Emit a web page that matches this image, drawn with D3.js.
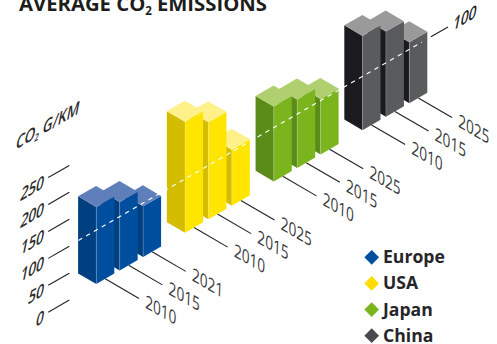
<!DOCTYPE html>
<html>
<head>
<meta charset="utf-8">
<script src="https://cdn.jsdelivr.net/npm/d3@7/dist/d3.min.js"></script>
<style>
  html, body { margin: 0; padding: 0; background: #fff; }
  svg { display: block; }
  text { font-family: "Open Sans", "Noto Sans", sans-serif; }
</style>
</head>
<body>
<svg id="chart" width="497" height="344"></svg>
<script>
// CO2 emissions per region and model year, in g/km
const regions = ["Europe", "USA", "Japan", "China"];
const yearLabels = [
  ["2010", "2015", "2021"],
  ["2010", "2015", "2025"],
  ["2010", "2015", "2025"],
  ["2010", "2015", "2025"]
];
const emissions = [
  [143, 127, 94],
  [206, 180, 104],
  [139, 127, 103],
  [175, 158, 113]
];
const valueTicks = [0, 50, 100, 150, 200, 250];
const targetValue = 100;

const frontColors = ["#004f9f", "#ffe500", "#7ab51d", "#5a5b5d"];
const leftColors  = ["#003f80", "#d4bc00", "#5b8c1a", "#1b1a1f"];
const topColors   = ["#5f7fbb", "#fff08a", "#b0d070", "#9a9a9b"];
const legendColors = ["#004f9f", "#ffdd00", "#7ab51d", "#4a4a4c"];

// Isometric projection: position along the row of bars, depth towards the viewer, height
const rowX = d3.scaleLinear().domain([0, 1]).range([96.3, 114.3]);
const rowY = d3.scaleLinear().domain([0, 1]).range([284, 273.6]);
const depthX = d3.scaleLinear().domain([0, 1]).range([0, 18.2]);
const depthY = d3.scaleLinear().domain([0, 1]).range([0, 10.6]);
const heightY = d3.scaleLinear().domain([0, 250]).range([0, 134.7]);

const barStep = 1.3;
const groupStep = 4.93;
const rowPos = (g, b) => g * groupStep + b * barStep;

// Screen point for row position p, depth d (negative goes back) and value h
const pt = (p, d, h) => [rowX(p) + depthX(d), rowY(p) + depthY(d) - heightY(h)];
const poly = pts => pts.map(q => q.join(",")).join(" ");

// Lettering laid onto the isometric planes
const risingText = (x, y) => `matrix(0.8,-0.46,-0.22,1.12,${x},${y})`;
const fallingText = (x, y) => `matrix(0.8,0.46,-0.05,1.08,${x},${y})`;

const svg = d3.select("#chart");

// Flatten to bars, painted from the farthest to the nearest
const bars = [];
emissions.forEach((vals, g) => vals.forEach((v, b) => bars.push({ g, b, v, year: yearLabels[g][b] })));
bars.reverse();

// Year leaders and labels lie on the ground, so they go underneath the bars
const leaders = svg.append("g");
bars.forEach(d => {
  const p = rowPos(d.g, d.b) + 0.5;
  const a = pt(p, 0, 0), e = pt(p, 1.85, 0);
  leaders.append("line")
    .attr("x1", a[0]).attr("y1", a[1]).attr("x2", e[0]).attr("y2", e[1])
    .attr("stroke", "#222").attr("stroke-width", 1.1);
  leaders.append("text")
    .attr("transform", fallingText(e[0] + 6, e[1] + 9))
    .attr("font-size", 17).attr("fill", "#3a3a3c")
    .text(d.year);
});

// Bars
const barLayer = svg.append("g");
bars.forEach(d => {
  const p = rowPos(d.g, d.b);
  const g = barLayer.append("g");
  g.append("polygon")
    .attr("points", poly([pt(p, 0, 0), pt(p, -1, 0), pt(p, -1, d.v), pt(p, 0, d.v)]))
    .attr("fill", leftColors[d.g]);
  g.append("polygon")
    .attr("points", poly([pt(p, 0, 0), pt(p + 1, 0, 0), pt(p + 1, 0, d.v), pt(p, 0, d.v)]))
    .attr("fill", frontColors[d.g]);
  g.append("polygon")
    .attr("points", poly([pt(p, 0, d.v), pt(p + 1, 0, d.v), pt(p + 1, -1, d.v), pt(p, -1, d.v)]))
    .attr("fill", topColors[d.g]);
  const c0 = pt(p, 0, 0), c1 = pt(p, 0, d.v);
  g.append("line")
    .attr("x1", c0[0]).attr("y1", c0[1]).attr("x2", c1[0]).attr("y2", c1[1])
    .attr("stroke", "#fff").attr("stroke-opacity", 0.3).attr("stroke-width", 0.6);
});

// Dashed 100 g/km target running across the front of all bars
const targetStart = pt(-1, 0, targetValue);
const targetEnd = pt(rowPos(3, 2) + 0.7, 0, targetValue);
svg.append("line")
  .attr("x1", targetStart[0]).attr("y1", targetStart[1])
  .attr("x2", targetEnd[0]).attr("y2", targetEnd[1])
  .attr("stroke", "#fff").attr("stroke-width", 1.1).attr("stroke-dasharray", "4.5 4.5");

// Value axis on the left
const axis = svg.append("g");
valueTicks.forEach(v => {
  const a = pt(-2.67, 0, v), e = pt(-1.5, 0, v);
  axis.append("line")
    .attr("x1", a[0]).attr("y1", a[1] + 0.5).attr("x2", e[0]).attr("y2", e[1] + 0.5)
    .attr("stroke", "#222").attr("stroke-width", 1.1);
  axis.append("text")
    .attr("transform", risingText(a[0] - 5.5, a[1] + 11))
    .attr("text-anchor", "end")
    .attr("font-size", 17).attr("font-weight", 600).attr("fill", "#2a2a2c")
    .text(v);
});

// Target tick and its label at the far end
const tickA = pt(rowPos(3, 2) + 1.2, 0, targetValue), tickE = pt(rowPos(3, 2) + 2.15, 0, targetValue);
svg.append("line")
  .attr("x1", tickA[0]).attr("y1", tickA[1]).attr("x2", tickE[0]).attr("y2", tickE[1])
  .attr("stroke", "#222").attr("stroke-width", 1.1);
svg.append("text")
  .attr("transform", risingText(tickE[0] + 4, tickE[1] + 4))
  .attr("font-size", 17).attr("font-weight", 600).attr("fill", "#222")
  .text(targetValue);

// Axis unit
const unit = svg.append("text")
  .attr("transform", risingText(15, 150))
  .attr("font-size", 17).attr("font-weight", 600).attr("fill", "#2a2a2c");
unit.append("tspan").text("CO");
unit.append("tspan").attr("font-size", 9.5).attr("dy", 3).text("2");
unit.append("tspan").attr("dy", -3).attr("dx", 4).text("G/KM");

// Title
const title = svg.append("text")
  .attr("x", 19).attr("y", 11)
  .attr("font-size", 20.3).attr("font-weight", 700).attr("fill", "#1d1d1b");
title.append("tspan").text("AVERAGE CO");
title.append("tspan").attr("font-size", 11.5).attr("dy", 4).text("2");
title.append("tspan").attr("dy", -4).attr("dx", 5).text("EMISSIONS");

// Legend
const legendY = d3.scalePoint().domain(regions).range([257.3, 335.7]);
const legend = svg.append("g");
regions.forEach((r, i) => {
  const y = legendY(r);
  legend.append("path")
    .attr("d", d3.symbol(d3.symbolSquare, 108))
    .attr("transform", `translate(371.7,${y}) rotate(45)`)
    .attr("fill", legendColors[i]);
  legend.append("text")
    .attr("x", 383).attr("y", y + 6)
    .attr("font-size", 17.6).attr("font-weight", 700).attr("fill", "#26262a")
    .text(r);
});
</script>
</body>
</html>
